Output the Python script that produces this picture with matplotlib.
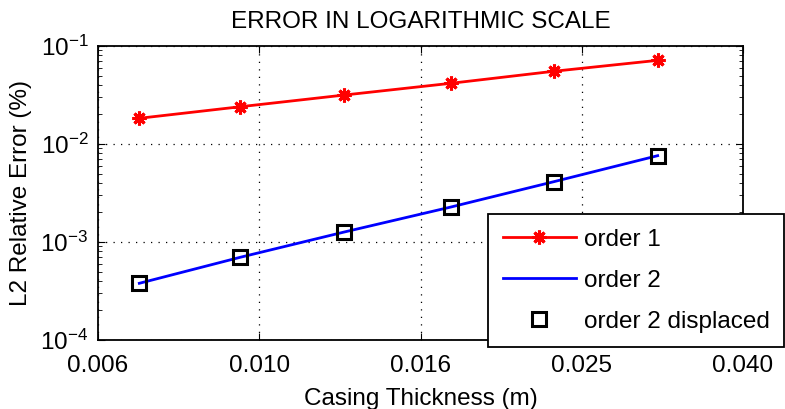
import matplotlib
matplotlib.use("Agg")
import matplotlib.pyplot as plt
import numpy as np
from matplotlib.ticker import FixedLocator, FixedFormatter, LogLocator, NullLocator, NullFormatter

plt.rcParams['font.family'] = ['Liberation Sans', 'DejaVu Sans']
plt.rcParams['mathtext.fontset'] = 'custom'
plt.rcParams['mathtext.rm'] = 'Liberation Sans'
plt.rcParams['mathtext.it'] = 'Liberation Sans:italic'
plt.rcParams['mathtext.default'] = 'regular'

thickness = [0.0071, 0.00947, 0.01275, 0.01727, 0.02318, 0.0312]
order1 = [0.0183, 0.0240, 0.0316, 0.0416, 0.0552, 0.0714]
order2 = [3.79e-4, 6.98e-4, 1.265e-3, 2.27e-3, 4.12e-3, 7.6e-3]
order2_disp = [3.79e-4, 6.98e-4, 1.265e-3, 2.27e-3, 4.12e-3, 7.6e-3]
xtick_exps = [-2.2, -2.0, -1.8, -1.6, -1.4]
xtick_labels = ['0.006', '0.010', '0.016', '0.025', '0.040']

FS = 17.5

fig = plt.figure(figsize=(7.85, 4.09), dpi=100)
ax = fig.add_axes([98/785, 1-340/409, (743-98)/785, (340-46)/409])

ax.plot(thickness, order1, color='red', lw=2, marker=(8, 2, 0), ms=10, mew=2.2, label='order 1')
ax.plot(thickness, order2, color='blue', lw=2, label='order 2')
ax.plot(thickness, order2_disp, ls='none', marker='s', ms=9.5, mfc='none', mec='black', mew=2.2,
        label='order 2 displaced')

ax.set_xscale('log')
ax.set_yscale('log')
xt = [10**e for e in xtick_exps]
ax.set_xlim(xt[0], xt[-1])
ax.set_ylim(1e-4, 1e-1)
ax.xaxis.set_major_locator(FixedLocator(xt))
ax.xaxis.set_major_formatter(FixedFormatter(xtick_labels))
ax.xaxis.set_minor_locator(NullLocator())
ax.xaxis.set_minor_formatter(NullFormatter())
ax.yaxis.set_major_locator(LogLocator(base=10, numticks=10))
ax.yaxis.set_minor_locator(LogLocator(base=10, subs=np.arange(2, 10), numticks=10))
ax.yaxis.set_minor_formatter(NullFormatter())

ax.tick_params(which='both', direction='in', top=True, right=True, labelsize=FS, colors='black')
ax.tick_params(which='major', length=5, width=0.8)
ax.tick_params(which='minor', length=3, width=0.6)
ax.tick_params(axis='x', pad=11)
ax.tick_params(axis='y', pad=7)
ax.grid(True, which='major', color='black', linestyle=(0, (1, 5)), linewidth=0.9)
for s in ax.spines.values():
    s.set_linewidth(1.3)

ax.set_title('ERROR IN LOGARITHMIC SCALE', fontsize=FS, pad=13)
ax.set_xlabel('Casing Thickness (m)', fontsize=FS, labelpad=8)
ax.set_ylabel('L2 Relative Error (%)', fontsize=FS, labelpad=6)

leg = ax.legend(loc='upper left', bbox_to_anchor=(488/785, 1-214/409), bbox_transform=fig.transFigure,
                fontsize=FS, frameon=True, fancybox=False, edgecolor='black', framealpha=1,
                borderpad=0.6, labelspacing=0.78, handlelength=3.0, handletextpad=0.35,
                borderaxespad=0)
leg.get_frame().set_linewidth(1.3)

fig.savefig('out.png', dpi=100)
